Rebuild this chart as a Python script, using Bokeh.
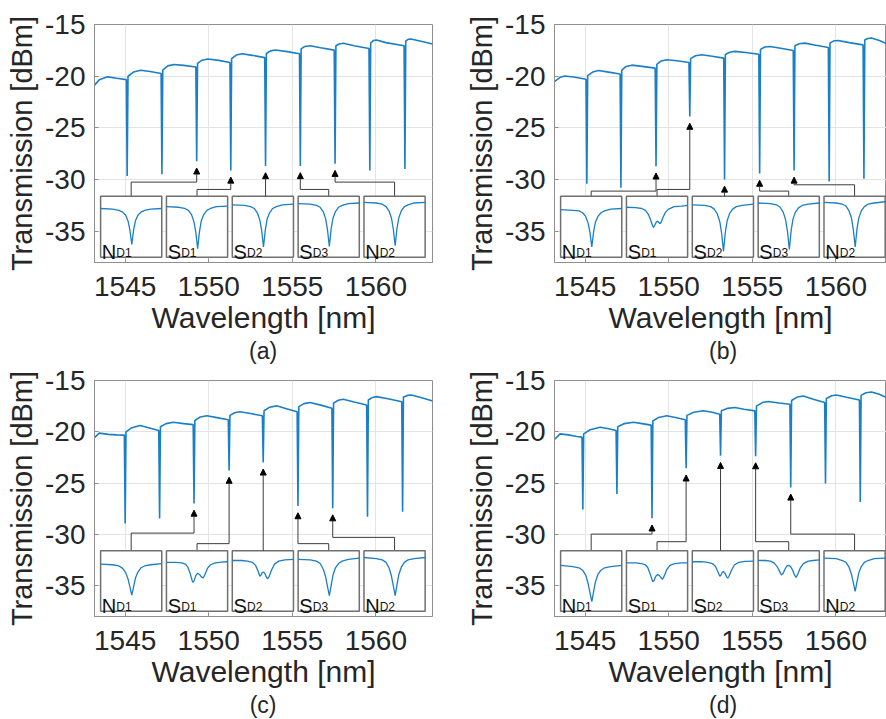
import numpy as np
from bokeh.plotting import figure
from bokeh.models import Range1d, FixedTicker, ColumnDataSource, Arrow, NormalHead
from bokeh.layouts import column, row
from bokeh.embed import file_html
from bokeh.resources import INLINE
from bokeh.core.properties import value

FONT = "Liberation Sans"
BLUE = "#1a7fc7"
TXT = "#262626"
FRAME = "#8f8f8f"

# ---------------- data ----------------
x_ticks = [1545, 1550, 1555, 1560]
y_ticks = [-35, -30, -25, -20, -15]
y_tick_labels = ["-35", "-30", "-25", "-20", "-15"]
panel_labels = ["(a)", "(b)", "(c)", "(d)"]
inset_letters = ["N", "S", "S", "S", "N"]
inset_subs = ["D1", "D1", "D2", "D3", "D2"]

# panel (a)
base_wl_a = [1543.15, 1543.45, 1543.95, 1544.5, 1545.07, 1545.17, 1545.5, 1545.93, 1546.5, 1547.15,
             1547.25, 1547.55, 1547.92, 1548.5, 1549.23, 1549.33, 1549.6, 1549.95, 1550.6, 1551.27,
             1551.37, 1551.65, 1552.0, 1552.6, 1553.35, 1553.45, 1553.7, 1554.0, 1554.7, 1555.43,
             1555.53, 1555.75, 1556.07, 1556.7, 1557.51, 1557.61, 1557.8, 1558.06, 1558.7, 1559.59,
             1559.69, 1559.85, 1560.05, 1560.6, 1561.69, 1561.79, 1561.95, 1562.1, 1562.7, 1563.4]
base_db_a = [-20.9, -20.35, -20.06, -20.2, -20.33, -20.0, -19.6, -19.42, -19.55, -19.74,
             -19.4, -19.0, -18.86, -18.95, -19.1, -18.75, -18.45, -18.34, -18.47, -18.68,
             -18.3, -17.95, -17.82, -17.98, -18.2, -17.8, -17.55, -17.47, -17.62, -17.82,
             -17.35, -17.12, -17.05, -17.25, -17.48, -17.05, -16.88, -16.82, -17.05, -17.32,
             -16.8, -16.55, -16.49, -16.75, -17.06, -16.6, -16.42, -16.4, -16.62, -16.88]
dip_wl_a = [1545.12, 1547.20, 1549.28, 1551.32, 1553.40, 1555.48, 1557.56, 1559.64, 1561.74]
dip_db_a = [-29.64, -29.48, -28.22, -29.1, -28.67, -28.67, -28.45, -29.1, -28.96]

# panel (b)
base_wl_b = [1543.16, 1543.5, 1543.8, 1544.4, 1545.05, 1545.15, 1545.45, 1545.8, 1546.4, 1547.09,
             1547.19, 1547.45, 1547.79, 1548.4, 1549.19, 1549.29, 1549.55, 1549.88, 1550.5, 1551.21,
             1551.31, 1551.6, 1551.97, 1552.6, 1553.29, 1553.39, 1553.65, 1553.96, 1554.6, 1555.39,
             1555.49, 1555.75, 1556.06, 1556.7, 1557.45, 1557.55, 1557.8, 1558.15, 1558.8, 1559.55,
             1559.65, 1559.85, 1560.14, 1560.8, 1561.63, 1561.73, 1561.9, 1562.13, 1562.6, 1563.04]
base_db_b = [-20.52, -20.1, -19.97, -20.1, -20.29, -19.95, -19.6, -19.45, -19.6, -19.78,
             -19.4, -19.05, -18.93, -19.05, -19.22, -18.85, -18.52, -18.41, -18.5, -18.68,
             -18.3, -18.02, -17.93, -18.07, -18.25, -17.9, -17.68, -17.6, -17.7, -17.87,
             -17.4, -17.18, -17.12, -17.3, -17.52, -17.05, -16.86, -16.8, -17.0, -17.23,
             -16.8, -16.6, -16.54, -16.75, -16.97, -16.5, -16.35, -16.31, -16.55, -16.86]
dip_wl_b = [1545.10, 1547.14, 1549.24, 1551.26, 1553.34, 1555.44, 1557.50, 1559.60, 1561.68]
dip_db_b = [-30.39, -30.78, -28.7, -23.9, -29.97, -29.4, -29.1, -30.16, -29.9]

# panel (c)
base_wl_c = [1543.15, 1543.45, 1544.0, 1544.5, 1544.95, 1545.05, 1545.4, 1545.9, 1546.4, 1547.01,
             1547.11, 1547.45, 1547.89, 1548.5, 1549.07, 1549.17, 1549.5, 1549.88, 1550.5, 1551.17,
             1551.27, 1551.55, 1551.87, 1552.5, 1553.21, 1553.31, 1553.65, 1554.06, 1554.6, 1555.29,
             1555.39, 1555.7, 1556.06, 1556.7, 1557.37, 1557.47, 1557.75, 1558.05, 1558.7, 1559.45,
             1559.55, 1559.8, 1560.04, 1560.8, 1561.55, 1561.65, 1561.9, 1562.13, 1562.8, 1563.4]
base_db_c = [-20.6, -20.13, -20.25, -20.3, -20.32, -20.0, -19.6, -19.39, -19.6, -19.88,
             -19.5, -19.2, -19.07, -19.2, -19.3, -18.9, -18.55, -18.43, -18.62, -18.82,
             -18.4, -18.15, -18.04, -18.22, -18.44, -17.95, -17.6, -17.47, -17.72, -18.05,
             -17.55, -17.25, -17.15, -17.4, -17.7, -17.2, -16.92, -16.83, -17.1, -17.38,
             -16.9, -16.65, -16.57, -16.8, -17.08, -16.6, -16.45, -16.41, -16.7, -16.99]
dip_wl_c = [1545.00, 1547.06, 1549.12, 1551.22, 1553.26, 1555.34, 1557.42, 1559.50, 1561.60]
dip_db_c = [-28.94, -28.46, -26.99, -23.78, -22.98, -27.24, -27.44, -28.27, -27.79]

# panel (d)
base_wl_d = [1543.16, 1543.5, 1544.0, 1544.5, 1544.81, 1544.91, 1545.3, 1545.9, 1546.4, 1546.85,
             1546.95, 1547.35, 1547.89, 1548.4, 1548.95, 1549.05, 1549.4, 1549.88, 1550.4, 1550.99,
             1551.09, 1551.5, 1552.07, 1552.6, 1553.05, 1553.15, 1553.5, 1553.96, 1554.5, 1555.15,
             1555.25, 1555.6, 1555.96, 1556.6, 1557.25, 1557.35, 1557.7, 1558.05, 1558.7, 1559.33,
             1559.43, 1559.75, 1560.04, 1560.7, 1561.41, 1561.51, 1561.8, 1562.13, 1562.6, 1563.04]
base_db_d = [-20.74, -20.2, -20.3, -20.45, -20.52, -20.2, -19.8, -19.55, -19.7, -19.88,
             -19.5, -19.2, -19.07, -19.2, -19.35, -18.95, -18.6, -18.43, -18.6, -18.82,
             -18.4, -18.1, -17.95, -18.1, -18.28, -17.95, -17.72, -17.63, -17.8, -17.96,
             -17.5, -17.15, -17.05, -17.2, -17.32, -16.95, -16.6, -16.51, -16.85, -17.15,
             -16.75, -16.48, -16.41, -16.65, -16.9, -16.45, -16.2, -16.12, -16.35, -16.67]
dip_wl_d = [1544.86, 1546.90, 1549.00, 1551.04, 1553.10, 1555.20, 1557.30, 1559.38, 1561.46]
dip_db_d = [-27.56, -26.06, -28.43, -23.56, -22.34, -22.37, -25.42, -25.03, -26.85]

# inset curves (relative position across box u, relative height in box v)
inset_u_single = [0, .2, .3, .36, .41, .45, .48, .51, .54, .57, .61, .66, .72, .82, 1.0]
ins_a1 = [.80, .79, .77, .74, .69, .59, .44, .21, .45, .60, .69, .74, .77, .79, .80]
ins_a2 = [.83, .82, .80, .77, .70, .58, .41, .14, .42, .60, .70, .77, .80, .83, .84]
ins_a3 = [.86, .85, .83, .80, .73, .61, .44, .17, .45, .63, .73, .80, .83, .86, .87]
ins_a4 = [.88, .87, .85, .82, .75, .63, .45, .18, .47, .64, .75, .82, .85, .88, .89]
ins_a5 = [.90, .89, .87, .83, .76, .64, .46, .19, .48, .65, .76, .83, .86, .89, .90]

ins_b1 = [.78, .77, .76, .73, .67, .56, .41, .17, .42, .58, .67, .73, .76, .79, .80]
u_b2 = [0, .15, .25, .31, .36, .40, .43, .44, .46, .49, .51, .53, .55, .57, .60, .64, .69, .78, .9, 1.0]
v_b2 = [.82, .815, .80, .77, .70, .60, .51, .49, .52, .58, .59, .57, .55, .58, .66, .74, .79, .83, .84, .85]
ins_b3 = [.86, .85, .83, .79, .71, .58, .39, .10, .41, .60, .72, .79, .83, .85, .87]
ins_b4 = [.89, .88, .86, .82, .74, .61, .42, .13, .44, .63, .74, .81, .85, .87, .89]
ins_b5 = [.90, .89, .87, .84, .76, .64, .45, .17, .47, .65, .76, .83, .87, .89, .91]

ins_c1 = [.78, .77, .75, .71, .64, .53, .40, .27, .41, .55, .65, .72, .75, .77, .79]
u_c2 = [0, .15, .25, .31, .35, .39, .42, .43, .45, .48, .51, .54, .57, .60, .63, .67, .72, .80, .9, 1]
v_c2 = [.81, .81, .80, .78, .73, .62, .51, .48, .50, .59, .63, .61, .57, .55, .61, .71, .77, .80, .815, .82]
u_c3 = [0, .15, .25, .33, .38, .42, .45, .47, .49, .515, .54, .56, .58, .60, .64, .69, .76, .86, 1]
v_c3 = [.84, .84, .83, .81, .76, .67, .58, .60, .64, .65, .61, .56, .54, .57, .68, .78, .83, .85, .86]
ins_c4 = [.86, .85, .83, .79, .70, .57, .41, .26, .43, .60, .72, .79, .83, .86, .88]
ins_c5 = [.89, .87, .85, .81, .72, .58, .42, .26, .44, .61, .73, .81, .85, .87, .89]

ins_d1 = [.76, .74, .72, .68, .60, .46, .31, .16, .33, .49, .61, .68, .72, .74, .76]
u_d2 = [0, .15, .25, .31, .35, .39, .42, .43, .45, .48, .51, .54, .57, .59, .62, .66, .71, .79, .9, 1]
v_d2 = [.80, .80, .79, .77, .72, .61, .52, .49, .51, .58, .61, .59, .55, .53, .59, .69, .76, .79, .80, .80]
u_d3 = [0, .15, .25, .33, .38, .42, .45, .47, .49, .51, .54, .56, .58, .60, .64, .69, .76, .86, 1]
v_d3 = [.82, .82, .81, .79, .74, .65, .58, .60, .645, .66, .62, .57, .55, .58, .68, .77, .81, .825, .83]
u_d4 = [0, .12, .2, .26, .31, .35, .38, .41, .44, .47, .50, .53, .56, .59, .62, .65, .69, .74, .82, .9, 1]
v_d4 = [.84, .84, .83, .80, .74, .66, .60, .63, .70, .75, .76, .74, .69, .61, .56, .62, .72, .79, .83, .84, .85]
ins_d5 = [.88, .87, .84, .81, .73, .61, .47, .33, .49, .64, .74, .81, .84, .87, .88]

# ---------------- layout constants ----------------
BOX_L0, BOX_PITCH, BOX_W = 1543.53, 3.94, 3.66
BOX_TOP, BOX_BOT = -31.6, -37.5
Y0, Y1 = -38.0, -15.0
TIP_GAP = 0.65
LABEL_X = 1553.25


def make_panel(base_wl, base_db, dip_wl, dip_db, insets, levels, xr,
               width, height, bl, br, bt, bb):
    p = figure(width=width, height=height, x_range=Range1d(*xr), y_range=Range1d(Y0, Y1),
               output_backend="svg", toolbar_location=None,
               min_border_left=bl, min_border_right=br, min_border_top=bt, min_border_bottom=bb,
               background_fill_color="white", border_fill_color="white")
    p.outline_line_color = FRAME
    p.outline_line_width = 1

    p.xaxis.ticker = FixedTicker(ticks=x_ticks)
    p.yaxis.ticker = FixedTicker(ticks=y_ticks)
    p.yaxis.major_label_overrides = dict(zip(y_ticks, y_tick_labels))
    p.xgrid.ticker = FixedTicker(ticks=x_ticks)
    p.ygrid.ticker = FixedTicker(ticks=y_ticks)
    p.grid.grid_line_color = "#e4e4e4"
    p.axis.major_label_text_font = FONT
    p.axis.major_label_text_font_size = "28px"
    p.axis.major_label_text_color = TXT
    p.axis.major_tick_in = 4
    p.axis.major_tick_out = 0
    p.axis.major_tick_line_color = FRAME
    p.axis.minor_tick_line_color = None
    p.axis.axis_line_color = FRAME
    p.axis.axis_label_text_font = FONT
    p.axis.axis_label_text_font_style = "normal"
    p.axis.axis_label_text_color = TXT
    p.xaxis.axis_label_text_font_size = "30px"
    p.yaxis.axis_label_text_font_size = "29px"
    p.xaxis.axis_label = "Wavelength [nm]"
    p.yaxis.axis_label = "Transmission [dBm]"
    p.xaxis.major_label_standoff = 14
    p.yaxis.major_label_standoff = 9
    p.xaxis.axis_label_standoff = 2
    p.yaxis.axis_label_standoff = 4

    wl = np.array(base_wl + dip_wl)
    db = np.array(base_db + dip_db)
    order = np.argsort(wl)
    p.line(wl[order], db[order], line_color=BLUE, line_width=1.6)

    lefts = [BOX_L0 + k * BOX_PITCH for k in range(5)]
    centers = [l + BOX_W / 2 for l in lefts]

    # connectors
    xs, ys = [], []
    ar = dict(x0=[], y0=[], x1=[], y1=[])
    for k in range(5):
        dx = dip_wl[2 + k]
        tip = dip_db[2 + k] - TIP_GAP
        lev = levels[k]
        if lev is None:
            ar["x0"].append(dx); ar["y0"].append(BOX_TOP)
        else:
            xs.append([centers[k], centers[k], dx])
            ys.append([BOX_TOP, lev, lev])
            ar["x0"].append(dx); ar["y0"].append(lev)
        ar["x1"].append(dx); ar["y1"].append(tip)
    p.multi_line(xs, ys, line_color="#3c3c3c", line_width=1)
    p.add_layout(Arrow(end=NormalHead(size=6, fill_color="black", line_color="black", line_width=1),
                       x_start="x0", y_start="y0", x_end="x1", y_end="y1",
                       line_color="#3c3c3c", line_width=1, source=ColumnDataSource(ar)))

    # inset boxes
    p.quad(left=lefts, right=[l + BOX_W for l in lefts], top=BOX_TOP, bottom=BOX_BOT,
           fill_color="white", line_color="#707070", line_width=1.5)

    # inset scales
    ex = {}
    for k in range(5):
        ex[f"ix{k}"] = Range1d((xr[0] - lefts[k]) / BOX_W, (xr[1] - lefts[k]) / BOX_W)
    p.extra_x_ranges = ex
    p.extra_y_ranges = {"iy": Range1d((Y0 - BOX_BOT) / (BOX_TOP - BOX_BOT),
                                      (Y1 - BOX_BOT) / (BOX_TOP - BOX_BOT))}
    for k, (u, v) in enumerate(insets):
        p.line(u, v, x_range_name=f"ix{k}", y_range_name="iy", line_color=BLUE, line_width=1.3)
        p.text(x=[0.02], y=[0.09], text=[inset_letters[k]], x_range_name=f"ix{k}", y_range_name="iy",
               text_font=value(FONT), text_font_size="20px", text_color="#111111",
               text_baseline="alphabetic", text_align="left")
        p.text(x=[0.02], y=[0.09], text=[inset_subs[k]], x_range_name=f"ix{k}", y_range_name="iy",
               x_offset=14.5 if inset_letters[k] == "N" else 13.5, y_offset=1.5,
               text_font=value(FONT), text_font_size="12px", text_color="#111111",
               text_baseline="alphabetic", text_align="left")
    return p


def make_caption(label, xr, width, height, bl, br):
    s = figure(width=width, height=height, x_range=Range1d(*xr), y_range=Range1d(0, 1),
               output_backend="svg", toolbar_location=None, x_axis_type=None, y_axis_type=None,
               min_border_left=bl, min_border_right=br, min_border_top=0, min_border_bottom=0,
               background_fill_color="white", border_fill_color="white")
    s.outline_line_color = None
    s.grid.visible = False
    s.text(x=[LABEL_X], y=[0.5], text=[label], text_align="center", text_baseline="middle",
           text_font=value(FONT), text_font_size="23px", text_color=TXT)
    return s


XR_L = (1543.165, 1563.39)
XR_R = (1543.165, 1563.03)

ins_a = [(inset_u_single, ins_a1), (inset_u_single, ins_a2), (inset_u_single, ins_a3),
         (inset_u_single, ins_a4), (inset_u_single, ins_a5)]
ins_b = [(inset_u_single, ins_b1), (u_b2, v_b2), (inset_u_single, ins_b3),
         (inset_u_single, ins_b4), (inset_u_single, ins_b5)]
ins_c = [(inset_u_single, ins_c1), (u_c2, v_c2), (u_c3, v_c3),
         (inset_u_single, ins_c4), (inset_u_single, ins_c5)]
ins_d = [(inset_u_single, ins_d1), (u_d2, v_d2), (u_d3, v_d3),
         (u_d4, v_d4), (inset_u_single, ins_d5)]

pa = make_panel(base_wl_a, base_db_a, dip_wl_a, dip_db_a, ins_a,
                [-30.23, -30.94, None, -30.94, -30.23], XR_L, 443, 336, 94, 11, 24, 74)
pb = make_panel(base_wl_b, base_db_b, dip_wl_b, dip_db_b, ins_b,
                [-31.1, -30.94, None, -31.1, -30.49], XR_R, 443, 336, 111, 0, 24, 74)
pc = make_panel(base_wl_c, base_db_c, dip_wl_c, dip_db_c, ins_c,
                [-29.87, -30.9, None, -30.9, -30.29], XR_L, 443, 326, 94, 11, 16, 74)
pd = make_panel(base_wl_d, base_db_d, dip_wl_d, dip_db_d, ins_d,
                [-29.97, -30.71, None, -30.71, -29.97], XR_R, 443, 326, 111, 0, 16, 74)

sa = make_caption(panel_labels[0], XR_L, 443, 28, 94, 11)
sb = make_caption(panel_labels[1], XR_R, 443, 28, 111, 0)
sc = make_caption(panel_labels[2], XR_L, 443, 29, 94, 11)
sd = make_caption(panel_labels[3], XR_R, 443, 29, 111, 0)

layout = column(row(pa, pb, spacing=0), row(sa, sb, spacing=0),
                row(pc, pd, spacing=0), row(sc, sd, spacing=0), spacing=0)
open("out.html", "w").write(file_html(layout, INLINE))
